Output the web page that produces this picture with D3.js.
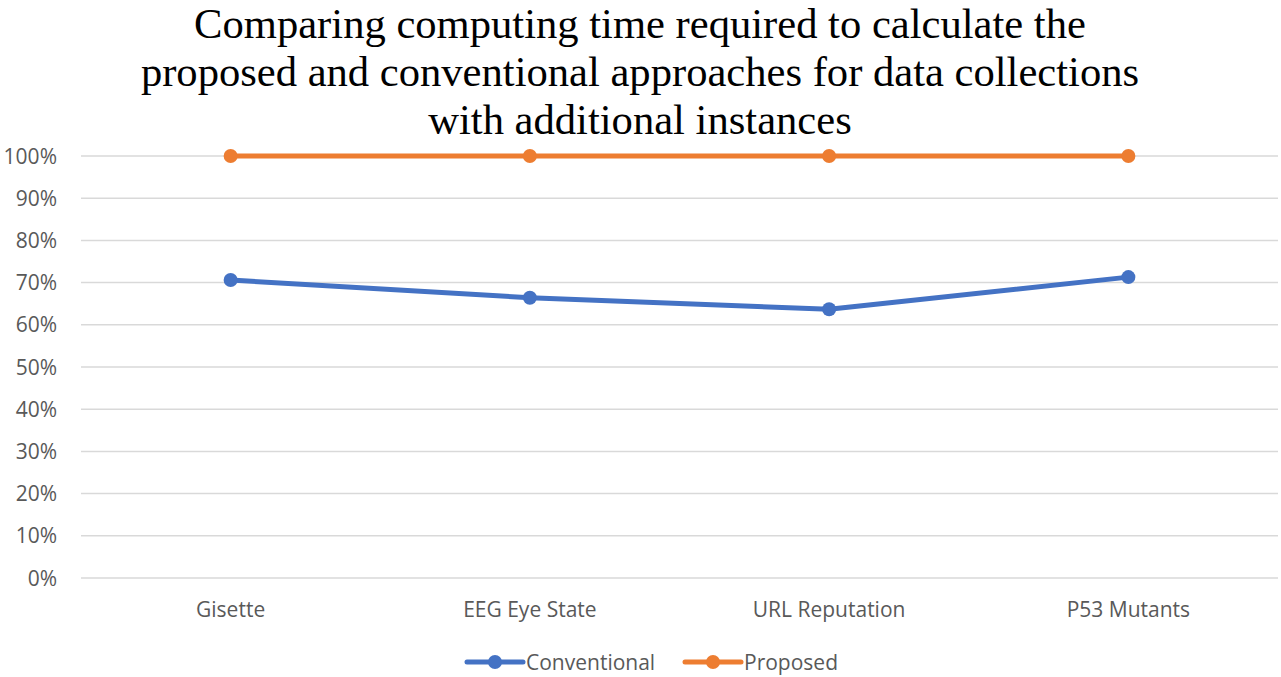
<!DOCTYPE html>
<html>
<head>
<meta charset="utf-8">
<script src="https://cdn.jsdelivr.net/npm/d3@7"></script>
<style>
  html, body { margin: 0; padding: 0; background: #fff; }
  svg { display: block; }
</style>
</head>
<body>
<svg id="chart" width="1281" height="677"></svg>
<script>
// Data
const categories = ["Gisette", "EEG Eye State", "URL Reputation", "P53 Mutants"];
const conventional = [0.706, 0.664, 0.637, 0.713];
const proposed = [1.0, 1.0, 1.0, 1.0];
const yTicks = [0, 0.1, 0.2, 0.3, 0.4, 0.5, 0.6, 0.7, 0.8, 0.9, 1.0];
const titleLines = [
  "Comparing computing time required to calculate the",
  "proposed and conventional approaches for data collections",
  "with additional instances"
];
const seriesNames = ["Conventional", "Proposed"];
const seriesColors = ["#4472C4", "#ED7D31"];

const svg = d3.select("#chart");
const margin = { left: 81, right: 3, top: 156, bottom: 99 };
const W = 1281, H = 677;

const x = d3.scaleBand().domain(categories).range([margin.left, W - margin.right]);
const y = d3.scaleLinear().domain([0, 1]).range([H - margin.bottom, margin.top]);

const labelFont = "'Open Sans', Lato, sans-serif";
const labelSize = 21;

// Title
svg.append("g").selectAll("text").data(titleLines).join("text")
  .attr("x", 640).attr("y", (d, i) => 37.5 + i * 48)
  .attr("text-anchor", "middle")
  .attr("font-family", "'Liberation Serif', 'Times New Roman', serif")
  .attr("font-size", 42.6)
  .attr("fill", "#000")
  .text(d => d);

// Gridlines
svg.append("g").selectAll("line").data(yTicks).join("line")
  .attr("x1", margin.left).attr("x2", W - margin.right)
  .attr("y1", d => y(d)).attr("y2", d => y(d))
  .attr("stroke", "#d9d9d9").attr("stroke-width", 1.5);

// Y axis labels
svg.append("g").selectAll("text").data(yTicks).join("text")
  .attr("x", 57).attr("y", d => y(d) + 7.5)
  .attr("text-anchor", "end")
  .attr("font-family", labelFont).attr("font-size", labelSize)
  .attr("fill", "#595959")
  .text(d => d3.format(".0%")(d));

// X axis labels
svg.append("g").selectAll("text").data(categories).join("text")
  .attr("x", d => x(d) + x.bandwidth() / 2).attr("y", 617)
  .attr("text-anchor", "middle")
  .attr("font-family", labelFont).attr("font-size", labelSize)
  .attr("fill", "#595959")
  .text(d => d);

// Series
const series = [conventional, proposed];
const line = d3.line()
  .x((d, i) => x(categories[i]) + x.bandwidth() / 2)
  .y(d => y(d));

series.forEach((vals, si) => {
  const g = svg.append("g");
  g.append("path").datum(vals)
    .attr("d", line)
    .attr("fill", "none")
    .attr("stroke", seriesColors[si])
    .attr("stroke-width", 5)
    .attr("stroke-linejoin", "round")
    .attr("stroke-linecap", "round");
  g.selectAll("circle").data(vals).join("circle")
    .attr("cx", (d, i) => x(categories[i]) + x.bandwidth() / 2)
    .attr("cy", d => y(d))
    .attr("r", 7)
    .attr("fill", seriesColors[si]);
});

// Legend
const legendItems = [
  { name: seriesNames[0], color: seriesColors[0], x0: 467 },
  { name: seriesNames[1], color: seriesColors[1], x0: 685 }
];
const lg = svg.append("g");
legendItems.forEach(item => {
  const ly = 662;
  lg.append("line")
    .attr("x1", item.x0).attr("x2", item.x0 + 56)
    .attr("y1", ly).attr("y2", ly)
    .attr("stroke", item.color).attr("stroke-width", 5)
    .attr("stroke-linecap", "round");
  lg.append("circle")
    .attr("cx", item.x0 + 28).attr("cy", ly).attr("r", 7)
    .attr("fill", item.color);
  lg.append("text")
    .attr("x", item.x0 + 59).attr("y", ly + 7.5)
    .attr("font-family", labelFont).attr("font-size", labelSize)
    .attr("fill", "#595959")
    .text(item.name);
});
</script>
</body>
</html>
